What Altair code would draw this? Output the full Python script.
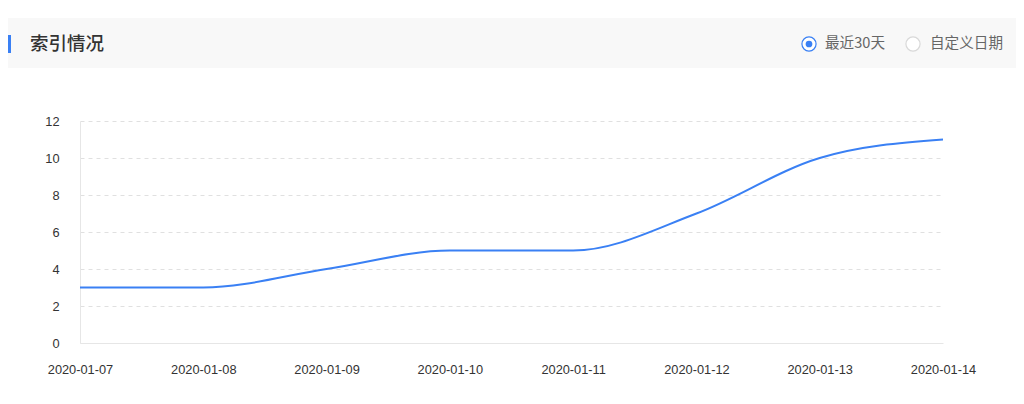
import altair as alt
import pandas as pd

dates = ["2020-01-07", "2020-01-08", "2020-01-09", "2020-01-10",
         "2020-01-11", "2020-01-12", "2020-01-13", "2020-01-14"]
values = [3, 3, 4, 5, 5, 7, 10, 11]
title_text = "索引情况"
radio_labels = ["最近30天", "自定义日期"]

df = pd.DataFrame({"date": dates, "value": values})
one = pd.DataFrame({"k": [0]})

W, H = 863, 222
BLUE = "#3a80f4"
CJK = "Noto Sans CJK SC"

line = alt.Chart(df).mark_line(
    interpolate="monotone", color=BLUE, strokeWidth=2
).encode(
    x=alt.X("date:O", sort=dates,
            scale=alt.Scale(type="point", padding=0),
            axis=alt.Axis(title=None, labelAngle=0, ticks=False, grid=False,
                          domainColor="#e6e6e6", labelPadding=20,
                          labelFontSize=12.8, labelColor="#333333",
                          labelFont="Liberation Sans")),
    y=alt.Y("value:Q", scale=alt.Scale(domain=[0, 12]),
            axis=alt.Axis(title=None, values=[0, 2, 4, 6, 8, 10, 12],
                          ticks=False, domainColor="#e6e6e6",
                          gridColor="#e0e0e0", gridDash=[4, 4],
                          labelPadding=21, labelFontSize=12.8,
                          labelColor="#333333", labelFont="Liberation Sans")),
)

band = alt.Chart(one).mark_rect(color="#f8f8f8").encode(
    x=alt.value(-72), x2=alt.value(938), y=alt.value(-103), y2=alt.value(-53))
accent = alt.Chart(one).mark_rect(color=BLUE).encode(
    x=alt.value(-72), x2=alt.value(-69), y=alt.value(-86), y2=alt.value(-68))
title = alt.Chart(one).mark_text(
    text=title_text, font=CJK, fontSize=18.5, fontWeight=500, color="#333333",
    align="left", baseline="middle"
).encode(x=alt.value(-50), y=alt.value(-77))

r1 = alt.Chart(one).mark_point(
    shape="circle", size=200, filled=False, stroke=BLUE, strokeWidth=1.2,
    fill="white", fillOpacity=1
).encode(x=alt.value(729), y=alt.value(-77))
r1dot = alt.Chart(one).mark_point(
    shape="circle", size=45, filled=True, color=BLUE, opacity=1
).encode(x=alt.value(729), y=alt.value(-77))
r2 = alt.Chart(one).mark_point(
    shape="circle", size=200, filled=False, stroke="#d9d9d9", strokeWidth=1.2,
    fill="white", fillOpacity=1
).encode(x=alt.value(833), y=alt.value(-77))
t1 = alt.Chart(one).mark_text(
    text=radio_labels[0], font=CJK, fontSize=14.6, color="#666666",
    align="left", baseline="middle"
).encode(x=alt.value(745), y=alt.value(-77))
t2 = alt.Chart(one).mark_text(
    text=radio_labels[1], font=CJK, fontSize=14.6, color="#666666",
    align="left", baseline="middle"
).encode(x=alt.value(850), y=alt.value(-77))

chart = alt.layer(band, accent, title, r1, r1dot, r2, t1, t2, line).properties(
    width=W, height=H,
    background="white",
    autosize=alt.AutoSizeParams(type="none"),
    padding={"left": 72, "top": 113, "right": 73, "bottom": 53},
).configure_view(strokeWidth=0, stroke=None)

chart.save("out.html", embed_options={"renderer": "svg", "actions": False})
